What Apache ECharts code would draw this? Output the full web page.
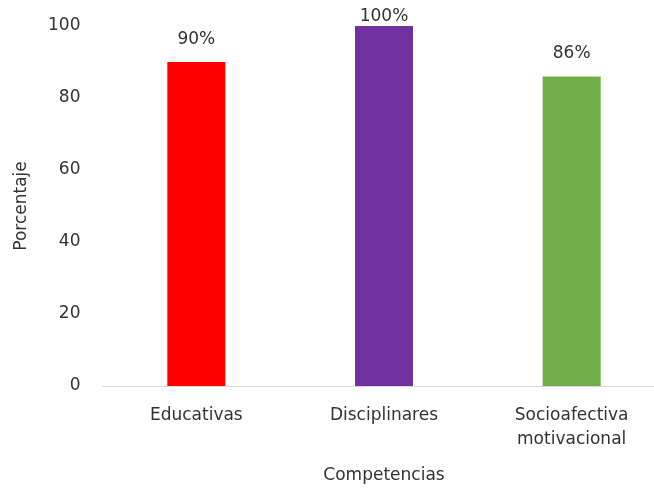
<!DOCTYPE html>
<html><head><meta charset="utf-8">
<script src="https://cdn.jsdelivr.net/npm/echarts@6/dist/echarts.min.js"></script>
<style>html,body{margin:0;padding:0;background:#fff;overflow:hidden}#c{width:672px;height:489px}</style>
</head><body><div id="c"></div>
<script>
const categories = ['Educativas', 'Disciplinares', 'Socioafectiva\nmotivacional'];
const values = [90, 100, 86];
const colors = ['#FF0000', '#7030A0', '#70AD47'];
const yTicks = {min: 0, max: 100, interval: 20};

const font = 'DejaVu Sans';
const fs = 17;
const txt = '#333333';
const chart = echarts.init(document.getElementById('c'));
chart.setOption({
  animation: false,
  grid: {left: 102.5, top: 26, width: 563, height: 360, containLabel: false},
  xAxis: {
    type: 'category', data: categories,
    name: 'Competencias', nameLocation: 'middle', nameGap: 81,
    nameTextStyle: {fontFamily: font, fontSize: fs, color: txt},
    axisLine: {lineStyle: {color: '#D9D9D9', width: 1}},
    axisTick: {show: false},
    axisLabel: {fontFamily: font, fontSize: fs, color: txt, margin: 18, lineHeight: 24}
  },
  yAxis: {
    type: 'value', min: yTicks.min, max: yTicks.max, interval: yTicks.interval,
    name: 'Porcentaje', nameLocation: 'middle', nameGap: 72, nameRotate: 90,
    nameTextStyle: {fontFamily: font, fontSize: fs, color: txt},
    axisLine: {show: false}, axisTick: {show: false},
    splitLine: {show: false},
    axisLabel: {fontFamily: font, fontSize: fs, color: txt, margin: 22}
  },
  series: [{
    type: 'bar', barWidth: 58,
    data: values.map((v, i) => ({
      value: v,
      itemStyle: {color: colors[i]},
      label: {distance: v >= 100 ? 1 : 14}
    })),
    label: {show: true, position: 'top', formatter: '{c}%', fontFamily: font, fontSize: fs, color: txt}
  }]
});
</script></body></html>
